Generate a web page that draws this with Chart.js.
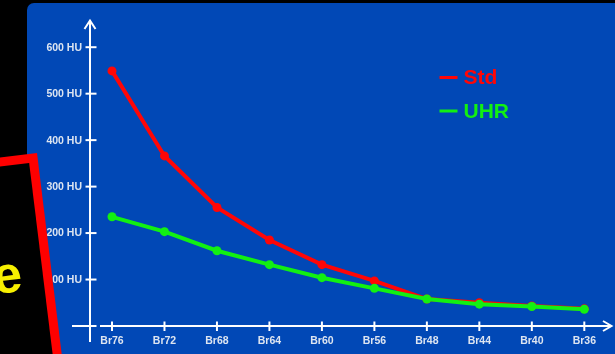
<!DOCTYPE html>
<html>
<head>
<meta charset="utf-8">
<script src="https://cdn.jsdelivr.net/npm/chart.js@4"></script>
<style>
  html, body { margin: 0; padding: 0; background: #000; }
  #wrap { width: 615px; height: 354px; }
</style>
</head>
<body>
<div id="wrap"><canvas id="c" width="615" height="354"></canvas></div>
<script>
// Reconstruction kernels along the x axis, noise (HU) for the two modes
const categories = ['Br76', 'Br72', 'Br68', 'Br64', 'Br60', 'Br56', 'Br48', 'Br44', 'Br40', 'Br36'];
const stdValues = [549, 366, 255, 185, 132, 97, 58, 50, 43, 37];
const uhrValues = [235, 203, 162, 132, 104, 81, 58, 47, 42, 36];
const yTickValues = [100, 200, 300, 400, 500, 600];
const yUnit = 'HU';
const seriesNames = ['Std', 'UHR'];
const calloutText = 'e';

const RED = '#ff0606';
const GREEN = '#12f012';
const PANEL = '#0148b6';
const AXIS = '#ffffff';
const LABEL = '#dde5f1';
const FONT = '"Liberation Sans", Arial, sans-serif';

const slideFrame = {
  id: 'slideFrame',
  beforeDraw(chart) {
    const ctx = chart.ctx;
    const xs = chart.scales.x, ys = chart.scales.y;
    ctx.save();
    // page background and blue panel
    ctx.fillStyle = '#000';
    ctx.fillRect(0, 0, chart.width, chart.height);
    ctx.fillStyle = PANEL;
    ctx.beginPath();
    ctx.roundRect(27, 3, chart.width, chart.height + 20, 7);
    ctx.fill();

    const axisX = 90;
    const axisY = ys.getPixelForValue(0);
    ctx.strokeStyle = AXIS;
    ctx.lineWidth = 2;
    ctx.lineCap = 'butt';

    // vertical axis with arrow
    ctx.beginPath();
    ctx.moveTo(axisX, 342);
    ctx.lineTo(axisX, 20);
    ctx.stroke();
    ctx.beginPath();
    ctx.moveTo(axisX - 5.5, 29);
    ctx.lineTo(axisX, 20.5);
    ctx.lineTo(axisX + 5.5, 29);
    ctx.stroke();

    // horizontal axis with arrow
    ctx.beginPath();
    ctx.moveTo(72, axisY);
    ctx.lineTo(96.5, axisY);
    ctx.moveTo(100, axisY);
    ctx.lineTo(611, axisY);
    ctx.stroke();
    ctx.beginPath();
    ctx.moveTo(603, axisY - 5);
    ctx.lineTo(611.5, axisY);
    ctx.lineTo(603, axisY + 5);
    ctx.stroke();

    // y ticks and labels
    ctx.font = 'bold 10.5px ' + FONT;
    ctx.fillStyle = LABEL;
    ctx.textAlign = 'right';
    ctx.textBaseline = 'middle';
    yTickValues.forEach(v => {
      const y = ys.getPixelForValue(v);
      ctx.beginPath();
      ctx.moveTo(85.5, y);
      ctx.lineTo(96.5, y);
      ctx.stroke();
      ctx.fillText(v + ' ' + yUnit, 82, y + 0.5);
    });

    // x ticks and labels
    ctx.textAlign = 'center';
    categories.forEach((c, i) => {
      const x = xs.getPixelForValue(i);
      ctx.beginPath();
      ctx.moveTo(x, axisY - 4.5);
      ctx.lineTo(x, axisY + 5);
      ctx.stroke();
      ctx.fillText(c, x, 341);
    });
    ctx.restore();
  },
  afterDraw(chart) {
    const ctx = chart.ctx;
    ctx.save();
    // legend
    ctx.font = 'bold 21px ' + FONT;
    ctx.textAlign = 'left';
    ctx.textBaseline = 'middle';
    const rows = [77.5, 111];
    chart.data.datasets.forEach((ds, i) => {
      const y = rows[i];
      ctx.strokeStyle = ds.borderColor;
      ctx.lineWidth = 3;
      ctx.beginPath();
      ctx.moveTo(439.5, y);
      ctx.lineTo(457.5, y);
      ctx.stroke();
      ctx.fillStyle = ds.borderColor;
      ctx.fillText(ds.label, 463.5, y + 1);
    });

    // tilted callout box overlapping the left edge
    ctx.translate(37, 153);
    ctx.rotate(-7 * Math.PI / 180);
    ctx.fillStyle = '#ff0000';
    ctx.fillRect(-400, 0, 400, 400);
    ctx.fillStyle = '#000';
    ctx.fillRect(-400, 9, 391, 400);
    ctx.fillStyle = '#f7f000';
    ctx.font = 'bold 52px ' + FONT;
    ctx.textAlign = 'right';
    ctx.textBaseline = 'alphabetic';
    ctx.fillText(calloutText, -30, 135);
    ctx.restore();
  }
};

new Chart(document.getElementById('c'), {
  type: 'line',
  data: {
    labels: categories,
    datasets: [
      {
        label: seriesNames[0],
        data: stdValues,
        borderColor: RED,
        backgroundColor: RED,
        borderWidth: 4,
        pointRadius: 4.5,
        pointBorderWidth: 0,
        tension: 0,
        clip: false,
        order: 2
      },
      {
        label: seriesNames[1],
        data: uhrValues,
        borderColor: GREEN,
        backgroundColor: GREEN,
        borderWidth: 4,
        pointRadius: 4.5,
        pointBorderWidth: 0,
        tension: 0,
        clip: false,
        order: 1
      }
    ]
  },
  options: {
    responsive: false,
    devicePixelRatio: 1,
    animation: false,
    layout: { padding: { left: 112, right: 30.7, top: 47.2, bottom: 28 } },
    scales: {
      x: { type: 'category', display: false, offset: false },
      y: { type: 'linear', display: false, min: 0, max: 600 }
    },
    plugins: {
      legend: { display: false },
      tooltip: { enabled: false }
    }
  },
  plugins: [slideFrame]
});
</script>
</body>
</html>
